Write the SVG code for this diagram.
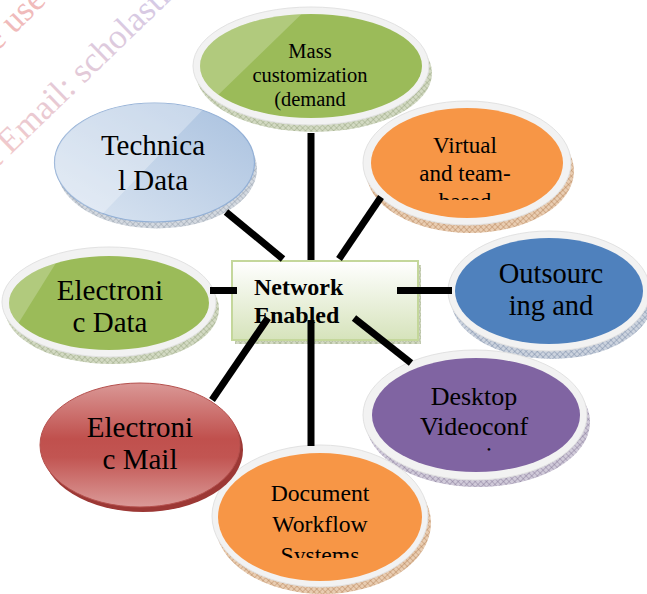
<svg xmlns="http://www.w3.org/2000/svg" width="647" height="594" viewBox="0 0 647 594" font-family="Liberation Serif, Times New Roman, serif">
<defs>
<style>
.ring{fill:#F2F2F2;stroke:#E2E2E2;stroke-width:1}
.lbl{fill:#000;text-anchor:middle}
.wire{stroke:#000;stroke-width:7;stroke-linecap:butt;fill:none}
.hi{fill:#FFFFFF;fill-opacity:0.22}
</style>
<pattern id="hatchG" width="4" height="4" patternUnits="userSpaceOnUse" patternTransform="rotate(45)"><rect width="4" height="4" fill="#D3DAC3"/><path d="M0 0H4M0 0V4" stroke="#8F9D78" stroke-width="0.8"/></pattern>
<pattern id="hatchO" width="4" height="4" patternUnits="userSpaceOnUse" patternTransform="rotate(45)"><rect width="4" height="4" fill="#E9CDB2"/><path d="M0 0H4M0 0V4" stroke="#B07A4E" stroke-width="0.8"/></pattern>
<pattern id="hatchB" width="4" height="4" patternUnits="userSpaceOnUse" patternTransform="rotate(45)"><rect width="4" height="4" fill="#CCD3DE"/><path d="M0 0H4M0 0V4" stroke="#6F80A0" stroke-width="0.8"/></pattern>
<pattern id="hatchP" width="4" height="4" patternUnits="userSpaceOnUse" patternTransform="rotate(45)"><rect width="4" height="4" fill="#D0CAD9"/><path d="M0 0H4M0 0V4" stroke="#7D7092" stroke-width="0.8"/></pattern>
<pattern id="hatchL" width="4" height="4" patternUnits="userSpaceOnUse" patternTransform="rotate(45)"><rect width="4" height="4" fill="#D4D9E0"/><path d="M0 0H4M0 0V4" stroke="#8A95A6" stroke-width="0.8"/></pattern>
<linearGradient id="gTech" x1="1" y1="0" x2="0" y2="1"><stop offset="0" stop-color="#A9C1DF"/><stop offset="1" stop-color="#DCE6F2"/></linearGradient>
<linearGradient id="gMail" x1="0" y1="0" x2="0" y2="1"><stop offset="0" stop-color="#DA9896"/><stop offset="0.45" stop-color="#C0504D"/><stop offset="0.6" stop-color="#C25552"/><stop offset="1" stop-color="#DB9A98"/></linearGradient>
<linearGradient id="gBox" x1="0" y1="0" x2="0" y2="1"><stop offset="0" stop-color="#FFFFFF"/><stop offset="1" stop-color="#D6E3BB"/></linearGradient>
<linearGradient id="gMark" gradientUnits="userSpaceOnUse" x1="0" y1="160" x2="170" y2="0"><stop offset="0" stop-color="#E48A8A"/><stop offset="1" stop-color="#8C8CE0"/></linearGradient>
<clipPath id="cMassHi"><polygon points="180,0 316,0 182,130 180,130"/></clipPath>
<clipPath id="cDataHi"><polygon points="0,250 64,250 8,340 0,340"/></clipPath>
<clipPath id="cTechHi"><polygon points="40,95 217,95 87,230 40,230"/></clipPath>
<clipPath id="cVirt"><rect x="360" y="100" width="220" height="100"/></clipPath>
<clipPath id="cDesk"><rect x="360" y="350" width="230" height="101"/></clipPath>
<clipPath id="cDoc"><rect x="210" y="445" width="220" height="113"/></clipPath>
</defs>

<rect width="647" height="594" fill="#FFFFFF"/>

<!-- faint watermark lettering -->
<g font-size="35" opacity="0.45">
<text x="-3" y="52" fill="#E06A6A" transform="rotate(-45 -3 52)">e use</text>
<text x="-3" y="168" fill="url(#gMark)" transform="rotate(-44 -3 168)">t Email: scholastic</text>
</g>

<!-- centre box -->
<g id="network-enabled">
<rect x="235" y="265" width="186" height="79" fill="url(#hatchG)"/>
<rect x="232" y="261" width="186" height="79" fill="url(#gBox)" stroke="#C4D79B" stroke-width="2"/>
<text x="254" y="295" font-weight="bold" font-size="24" fill="#000">Network</text>
<text x="254" y="323" font-weight="bold" font-size="24" fill="#000">Enabled</text>
</g>

<g id="technical-data">
<ellipse cx="157" cy="169" rx="100" ry="59.5" fill="url(#hatchL)"/>
<ellipse cx="154.5" cy="162.5" rx="100" ry="59.5" fill="url(#gTech)" stroke="#93B0D6" stroke-width="1.2"/>
<ellipse class="hi" cx="154.5" cy="162.5" rx="100" ry="59.5" clip-path="url(#cTechHi)" style="fill-opacity:0.3"/>
<text class="lbl" x="153" y="155" font-size="29" fill="#262626">Technica</text>
<text class="lbl" x="153" y="190" font-size="29" fill="#262626">l Data</text>
</g>

<g id="mass-customization">
<ellipse cx="314" cy="73" rx="118" ry="59" fill="url(#hatchG)"/>
<ellipse class="ring" cx="311" cy="66" rx="118" ry="59"/>
<ellipse cx="311" cy="66" rx="111" ry="52" fill="#9BBB59"/>
<ellipse class="hi" cx="311" cy="66" rx="111" ry="52" clip-path="url(#cMassHi)"/>
<text class="lbl" x="310" y="58" font-size="20.5">Mass</text>
<text class="lbl" x="310" y="82" font-size="20.5">customization</text>
<text class="lbl" x="310" y="106" font-size="20.5">(demand</text>
</g>

<g id="virtual-team">
<ellipse cx="470" cy="171" rx="104" ry="62" fill="url(#hatchO)"/>
<ellipse class="ring" cx="467" cy="163" rx="104" ry="62"/>
<ellipse cx="467" cy="163" rx="96" ry="55" fill="#F79646"/>
<g clip-path="url(#cVirt)">
<text class="lbl" x="465" y="153" font-size="23">Virtual</text>
<text class="lbl" x="465" y="181" font-size="23">and team-</text>
<text class="lbl" x="465" y="209" font-size="23">based</text>
</g>
</g>

<g id="outsourcing">
<ellipse cx="552" cy="299" rx="101" ry="60" fill="url(#hatchB)"/>
<ellipse class="ring" cx="549" cy="291" rx="101" ry="60"/>
<ellipse cx="549" cy="291" rx="94" ry="53" fill="#4F81BD"/>
<text class="lbl" x="551" y="283" font-size="28.5">Outsourc</text>
<text class="lbl" x="551" y="315" font-size="28.5">ing and</text>
</g>

<g id="desktop-videoconferencing">
<ellipse cx="478" cy="422" rx="112" ry="65" fill="url(#hatchP)"/>
<ellipse class="ring" cx="475" cy="415" rx="112" ry="65"/>
<ellipse cx="476" cy="415" rx="104" ry="57" fill="#8064A2"/>
<g clip-path="url(#cDesk)">
<text class="lbl" x="474" y="405" font-size="26">Desktop</text>
<text class="lbl" x="474" y="435" font-size="26">Videoconf</text>
<text class="lbl" x="474" y="465" font-size="26">erencing</text>
</g>
</g>

<g id="document-workflow">
<ellipse cx="323" cy="523" rx="108" ry="71" fill="url(#hatchO)"/>
<ellipse class="ring" cx="320" cy="516" rx="108" ry="71"/>
<ellipse cx="320" cy="517" rx="102" ry="64" fill="#F79646"/>
<g clip-path="url(#cDoc)">
<text class="lbl" x="320" y="501" font-size="23.7">Document</text>
<text class="lbl" x="320" y="532" font-size="23.7">Workflow</text>
<text class="lbl" x="320" y="563" font-size="23.7">Systems</text>
</g>
</g>

<g id="electronic-mail">
<ellipse cx="143" cy="450" rx="100" ry="62" fill="#9C3835"/>
<ellipse cx="140" cy="445" rx="100" ry="62" fill="url(#gMail)" stroke="#B5504D" stroke-width="1"/>
<text class="lbl" x="140" y="437" font-size="29">Electroni</text>
<text class="lbl" x="140" y="469" font-size="29">c Mail</text>
</g>

<g id="electronic-data">
<ellipse cx="112" cy="309" rx="107" ry="55" fill="url(#hatchG)"/>
<ellipse class="ring" cx="109" cy="302" rx="107" ry="55"/>
<ellipse cx="109" cy="303" rx="100" ry="47" fill="#9BBB59"/>
<ellipse class="hi" cx="109" cy="303" rx="100" ry="47" clip-path="url(#cDataHi)"/>
<text class="lbl" x="110" y="300" font-size="29">Electroni</text>
<text class="lbl" x="110" y="332" font-size="29">c Data</text>
</g>

<!-- spokes from the centre box -->
<g id="connectors">
<line class="wire" x1="226" y1="212" x2="283" y2="259"/>
<line class="wire" x1="311" y1="133" x2="311" y2="260"/>
<line class="wire" x1="381" y1="197" x2="339" y2="259"/>
<line class="wire" x1="210" y1="290.5" x2="237" y2="290.5"/>
<line class="wire" x1="397" y1="290.5" x2="452" y2="290.5"/>
<line class="wire" x1="268" y1="318" x2="212" y2="400"/>
<line class="wire" x1="311" y1="320" x2="311" y2="446"/>
<line class="wire" x1="354" y1="318" x2="411" y2="363"/>
</g>
</svg>
